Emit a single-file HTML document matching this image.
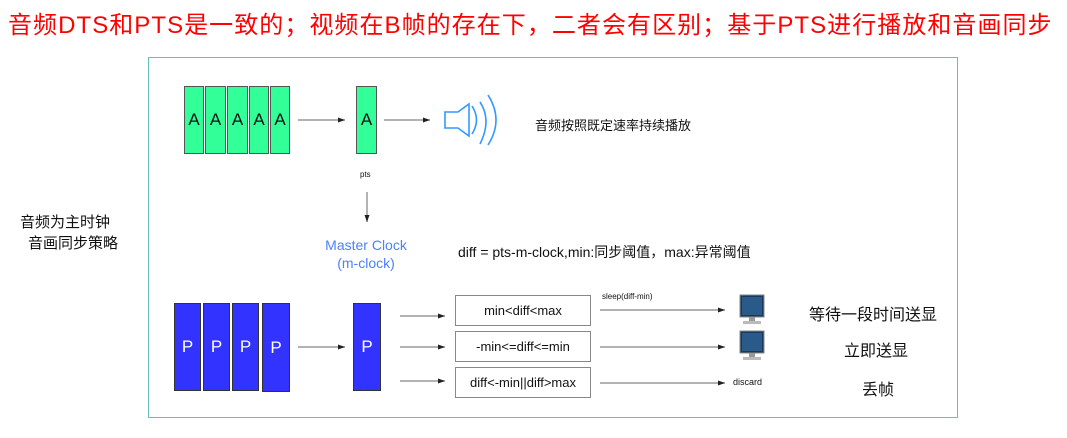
<!DOCTYPE html>
<html><head><meta charset="utf-8"><style>
body{margin:0;width:1067px;height:438px;background:#fff;position:relative;overflow:hidden;font-family:"Liberation Sans","Noto Sans CJK SC",sans-serif;}
div{position:absolute;box-sizing:border-box;}
.t{white-space:nowrap;}
.a{background:#33ff99;border:1.5px solid #555;font-size:17px;display:flex;align-items:center;justify-content:center;color:#111;}
.p{background:#3333ff;border:1.5px solid #333;font-size:17px;display:flex;align-items:center;justify-content:center;color:#fff;}
.b{border:1.5px solid #888;background:#fff;font-size:13px;display:flex;align-items:center;justify-content:center;color:#111;}
.cn{font-size:15px;color:#111;}
</style></head><body>
<div class="t" style="left:8px;top:5px;font-size:24px;color:#ff0000;letter-spacing:1.05px;">音频DTS和PTS是一致的；视频在B帧的存在下，二者会有区别；基于PTS进行播放和音画同步</div>
<div style="left:148px;top:57px;width:810px;height:361px;border:1px solid #66c2b8;"></div>
<div class="t cn" style="left:20px;top:211px;">音频为主时钟</div>
<div class="t cn" style="left:28px;top:232px;">音画同步策略</div>

<div class="a" style="left:184px;top:86px;width:20px;height:68px;">A</div>
<div class="a" style="left:205px;top:86px;width:21px;height:68px;">A</div>
<div class="a" style="left:227px;top:86px;width:21px;height:68px;">A</div>
<div class="a" style="left:249px;top:86px;width:20px;height:68px;">A</div>
<div class="a" style="left:270px;top:86px;width:20px;height:68px;">A</div>
<div class="a" style="left:356px;top:86px;width:21px;height:68px;">A</div>

<div class="p" style="left:174px;top:303px;width:27px;height:88px;">P</div>
<div class="p" style="left:203px;top:303px;width:27px;height:88px;">P</div>
<div class="p" style="left:232px;top:303px;width:27px;height:88px;">P</div>
<div class="p" style="left:262px;top:303px;width:28px;height:89px;">P</div>
<div class="p" style="left:353px;top:303px;width:28px;height:88px;">P</div>

<svg style="position:absolute;left:0;top:0" width="1067" height="438">
<defs><marker id="m" markerUnits="userSpaceOnUse" markerWidth="8" markerHeight="8" refX="7" refY="4" orient="auto"><path d="M0,1.5 L7,4 L0,6.5z" fill="#222"/></marker></defs>
<g stroke="#999" stroke-width="1.5" marker-end="url(#m)">
<line x1="298" y1="120" x2="345" y2="120"/>
<line x1="384" y1="120" x2="430" y2="120"/>
<line x1="367" y1="192" x2="367" y2="222"/>
<line x1="298" y1="347" x2="345" y2="347"/>
<line x1="400" y1="316" x2="445" y2="316"/>
<line x1="400" y1="347" x2="445" y2="347"/>
<line x1="400" y1="381" x2="445" y2="381"/>
<line x1="600" y1="310" x2="725" y2="310"/>
<line x1="600" y1="347" x2="725" y2="347"/>
<line x1="600" y1="383" x2="725" y2="383"/>
</g>
<g fill="none" stroke="#3399ff" stroke-width="1.6">
<path d="M445,112 L458,112 L469,104 L469,136 L458,128 L445,128z"/>
<path d="M472,106 Q481,120 472,134"/>
<path d="M480,102 Q492,120 480,144"/>
<path d="M488,95 Q504,120 488,145"/>
</g>
<g>
<rect x="740" y="295" width="24" height="22" fill="#1a3a5c" stroke="#888"/>
<rect x="742" y="297" width="20" height="18" fill="#2a5a8a"/>
<rect x="749" y="317" width="6" height="4" fill="#999"/><rect x="743" y="321" width="18" height="3" fill="#bbb"/>
<rect x="740" y="331" width="24" height="22" fill="#1a3a5c" stroke="#888"/>
<rect x="742" y="333" width="20" height="18" fill="#2a5a8a"/>
<rect x="749" y="353" width="6" height="4" fill="#999"/><rect x="743" y="357" width="18" height="3" fill="#bbb"/>
</g>
</svg>

<div class="t" style="left:360px;top:170px;font-size:8px;color:#111;">pts</div>
<div class="t" style="left:316px;top:236px;width:100px;text-align:center;font-size:14px;color:#4d7fff;line-height:18px;">Master Clock<br>(m-clock)</div>
<div class="t" style="left:458px;top:242px;font-size:14px;color:#111;">diff = pts-m-clock,min:同步阈值，max:异常阈值</div>
<div class="t" style="left:535px;top:115px;font-size:13px;color:#111;">音频按照既定速率持续播放</div>

<div class="b" style="left:455px;top:295px;width:136px;height:31px;">min&lt;diff&lt;max</div>
<div class="b" style="left:455px;top:331px;width:136px;height:31px;">-min&lt;=diff&lt;=min</div>
<div class="b" style="left:455px;top:367px;width:136px;height:31px;">diff&lt;-min||diff&gt;max</div>
<div class="t" style="left:602px;top:292px;font-size:8px;color:#111;">sleep(diff-min)</div>
<div class="t" style="left:733px;top:377px;font-size:9px;color:#111;">discard</div>
<div class="t cn" style="left:809px;top:301px;font-size:16px;">等待一段时间送显</div>
<div class="t cn" style="left:844px;top:337px;font-size:16px;">立即送显</div>
<div class="t cn" style="left:862px;top:376px;font-size:16px;">丢帧</div>
</body></html>
